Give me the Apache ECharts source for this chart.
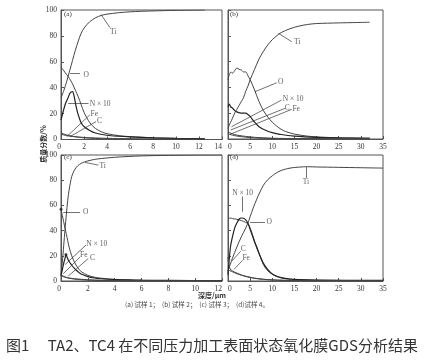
<!DOCTYPE html>
<html><head><meta charset="utf-8">
<script src="https://cdn.jsdelivr.net/npm/echarts@6/dist/echarts.min.js"></script>
<style>html,body{margin:0;padding:0;background:#fff}#c{width:426px;height:364px}</style>
</head><body><div id="c"></div>
<script>
// ---------- data (depth µm, mass fraction %) ----------
// panel (a) sample 1
const aTi = [[0,32],[0.25,38],[0.5,45],[0.75,53],[1,61],[1.25,69],[1.5,76],[1.75,82],[2,86],[2.5,91],[3,94],[3.5,95.8],[4,96.8],[5,97.9],[6,98.6],[7,99],[8,99.3],[10,99.7],[12.5,100]];
const aO  = [[0,56],[0.25,53],[0.5,50],[0.75,47],[1,43],[1.25,38],[1.5,33],[1.75,27],[2,21],[2.5,13],[3,8.5],[3.5,6],[4,4.5],[5,3],[6,2.2],[8,1.3],[10,0.8],[12.5,0.5]];
const aN  = [[0,15],[0.2,22],[0.4,28],[0.6,32],[0.8,36],[1,37],[1.15,33],[1.3,26],[1.5,19],[1.75,13],[2,10],[2.5,7],[3,5],[4,3.3],[5,2.5],[6,2],[8,1.3],[10,0.8],[12.5,0.5]];
const aFe = [[0,5],[0.5,3.5],[1,2.5],[1.5,1.8],[2,1.3],[3,0.8],[4,0.5],[6,0.3],[12.5,0.1]];
const aC  = [[0,4],[0.5,3],[1,2.3],[2,1.6],[3,1.2],[4,0.9],[6,0.6],[8,0.4],[12.5,0.2]];
// panel (b) sample 2
const bTi = [[0,8],[0.3,11],[0.6,13],[1,16],[1.5,20],[2,23],[2.5,26],[3,29],[3.5,32],[4,37],[4.5,41],[5,46],[6,54],[7,62],[8,68],[9,73],[10,77],[11,80],[12,82.5],[14,85.5],[16,87.5],[18,88.8],[20,89.5],[25,90],[32,90.5]];
const bO  = [[0,46],[0.3,50],[0.7,52],[1,51],[1.5,53],[2,55],[2.5,54],[3,53.5],[3.5,52],[4,52],[4.5,49],[5,46],[6,38],[7,29],[8,22],[9,17],[10,13],[11,10],[12,7.5],[13,5.8],[15,3.8],[18,2.2],[22,1.3],[27,0.8],[32,0.6]];
const bN  = [[0,25],[0.3,27],[0.6,25],[1,24],[1.5,22],[2,21],[3,20],[4,20],[4.5,19],[5,17.5],[6,13],[7,9.5],[8,7.5],[9,6],[10,5],[12,3.5],[15,2.2],[20,1.2],[25,0.8],[32,0.6]];
const bFe = [[0,4],[1,3],[2,2.3],[3,1.8],[5,1.1],[7,0.7],[10,0.4],[15,0.2],[32,0.1]];
const bC  = [[0,5.5],[1,4],[2,3],[3,2.5],[4,2],[6,1.3],[8,0.9],[10,0.6],[15,0.3],[32,0.2]];
// panel (c) sample 3
const cTi = [[0,5],[0.1,15],[0.2,28],[0.3,41],[0.4,53],[0.5,64],[0.6,72],[0.7,78],[0.8,83],[1,88],[1.25,91.5],[1.5,93.3],[1.75,94.5],[2,95.3],[2.5,96.5],[3,97.2],[4,98.2],[5,98.8],[6,99.3],[8,99.7],[10,99.9],[12,100]];
const cO  = [[0,57],[0.1,52],[0.2,47],[0.3,42],[0.4,37],[0.5,32],[0.6,27],[0.8,20],[1,15],[1.25,10.5],[1.5,7.5],[2,4.5],[2.5,3],[3,2.2],[4,1.3],[5,0.8],[6,0.5],[8,0.3],[12,0.2]];
const cN  = [[0,4],[0.1,9],[0.2,14],[0.3,18],[0.37,21],[0.45,19],[0.55,16.5],[0.7,14],[0.8,12.5],[1,10],[1.25,7.5],[1.5,5.5],[2,3.5],[2.5,2.4],[3,1.8],[4,1.2],[5,0.9],[6,0.7],[8,0.5],[12,0.3]];
const cFe = [[0,5],[0.25,3.5],[0.5,2.5],[1,1.5],[1.5,1],[2,0.7],[3,0.4],[5,0.2],[12,0.1]];
const cC  = [[0,4],[0.25,3.2],[0.5,2.5],[1,1.8],[2,1],[3,0.6],[5,0.3],[12,0.1]];
// panel (d) sample 4
const dTi = [[0,8],[0.5,13],[1,18],[2,27],[3,35],[4,42],[4.6,47],[5,51],[5.7,58],[6.5,65],[7,69],[8,76],[9,80.5],[10,83.5],[11,86],[12,87.7],[13,88.8],[14,89.6],[15,90.1],[17,90.6],[18,90.7],[20,90.5],[25,90.2],[30,89.9],[35,89.6]];
const dO  = [[0,49],[0.5,50],[1,49.5],[2,49],[3,48],[4,46.5],[4.6,45],[5,42],[5.7,35],[6.5,26],[7,22],[8,13],[9,8],[10,5.5],[11,3.5],[12,2.5],[13,1.8],[15,1.1],[18,0.7],[22,0.5],[35,0.3]];
const dN  = [[0,5],[0.3,18],[0.6,28],[1,35],[1.5,42],[2,46],[2.5,49],[3,50],[3.5,49.8],[4,48.5],[4.5,46],[5,41],[5.5,36],[6,31],[6.5,27],[7,22],[8,14],[9,9],[10,5.5],[11,3.8],[12,2.7],[14,1.6],[16,1.1],[20,0.7],[35,0.5]];
const dC  = [[0,19],[0.2,13],[0.5,9.5],[1,8],[2,6.3],[3,4.8],[4,3.8],[5,3],[6,2.3],[8,1.4],[10,0.9],[13,0.5],[20,0.3],[35,0.2]];
const dFe = [[0,9],[1,7.3],[2,5.8],[3,4.6],[4,3.6],[5,2.8],[6,2.1],[8,1.3],[10,0.8],[13,0.5],[20,0.3],[35,0.2]];

// tick labels / axis ranges
const xMax = [14, 35, 12, 35];
const xStep = [2, 5, 2, 5];
const yTicks = [0, 20, 40, 60, 80, 100];
const panelTags = ['(a)', '(b)', '(c)', '(d)'];

// annotation texts and their anchor / leader points (data space)
const annText = ['Ti', 'O', 'N × 10', 'Fe', 'C'];
const annPos = [
  [[4.55,83],[2.2,50],[3.4,27.5],[2.9,19.8],[3.35,14.6]],
  [[15.6,75],[11.9,44.4],[14.7,30.8],[15.4,23],[13.4,23.8]],
  [[3.1,91.4],[1.85,54.5],[2.66,29.3],[1.7,21],[2.35,18.6]],
  [[17.6,78.2],[9.3,46.6],[3.3,70.2],[4.1,18.2],[3.45,25.2]]
];
const annLead = [
  [[[3.48,96.5],[4.26,86.4]],[[0.8,50.8],[1.65,50.8]],[[0.63,28],[2.4,28]],[[2.5,19],[0.5,2.2]],[[3.04,13.8],[0.78,2.2]]],
  [[[11.4,81.9],[14.4,75.4]],[[6.1,36.7],[11,43.6]],[[12.1,30.2],[0.8,9.5]],[[14.4,23],[0.45,3.6]],[[12.9,23.8],[0.6,7]]],
  [[[1.79,94.1],[2.78,92]],[[0.17,54.5],[1.42,54.5]],[[1.86,28.5],[0.3,13]],[[1.42,19],[0.17,5.8]],[[2.03,17.8],[0.54,3.9]]],
  [[[17.6,90.4],[17.6,81.8]],[[5,46.6],[8.35,46.6]],[[3.3,67],[3.3,55]],[[3.3,16.4],[1.35,9.2]],[[2.86,23.6],[0.83,15.6]]]
];

const curves = [[aTi,aO,aN,aFe,aC],[bTi,bO,bN,bFe,bC],[cTi,cO,cN,cFe,cC],[dTi,dO,dN,dFe,dC]];
const grids = [
  {left:61, top:10, width:161, height:129.5},
  {left:228, top:10, width:155, height:129},
  {left:61, top:155, width:161, height:126},
  {left:228, top:155, width:155, height:126}
];
const tagPos = [[64,11],[230,11],[64,154],[230,154]];

const serif = 'Liberation Serif';
const ink = '#333';
const opt = {animation:false, backgroundColor:'#fff', grid:[], xAxis:[], yAxis:[], series:[], graphic:[]};

for (let i = 0; i < 4; i++) {
  const leftCol = i % 2 === 0;
  opt.grid.push(Object.assign({show:true, borderColor:'#555', borderWidth:1, backgroundColor:'transparent'}, grids[i]));
  opt.xAxis.push({type:'value', gridIndex:i, min:0, max:xMax[i], interval:xStep[i],
    axisLine:{show:true, lineStyle:{color:'#555', width:1}},
    axisTick:{show:true, inside:true, length:3, lineStyle:{color:'#555'}},
    axisLabel:{fontSize:7.5, fontFamily:serif, color:ink, margin:4,
      alignMinLabel: leftCol ? 'right' : 'left', alignMaxLabel: leftCol ? 'right' : 'center'},
    splitLine:{show:false}});
  opt.yAxis.push({type:'value', gridIndex:i, min:yTicks[0], max:yTicks[yTicks.length-1], interval:yTicks[1]-yTicks[0],
    axisLine:{show:true, lineStyle:{color:'#555', width:1}},
    axisTick:{show:true, inside:true, length:3, lineStyle:{color:'#555'}},
    axisLabel:{show: leftCol, fontSize:7.5, fontFamily:serif, color:ink, margin:4},
    splitLine:{show:false}});
  curves[i].forEach((d, k) => {
    opt.series.push({type:'line', xAxisIndex:i, yAxisIndex:i, data:d, showSymbol:false, smooth:0.3,
      lineStyle:{color: k === 2 ? '#222' : '#444', width: k === 2 ? 1.2 : 1}, z:3});
  });
  // leader lines
  opt.series.push({type:'lines', coordinateSystem:'cartesian2d', xAxisIndex:i, yAxisIndex:i,
    data: annLead[i].map(c => ({coords:c})), lineStyle:{color:ink, width:0.7, opacity:1}, z:4});
  // labels
  opt.series.push({type:'scatter', xAxisIndex:i, yAxisIndex:i, symbolSize:1, itemStyle:{color:'rgba(0,0,0,0)'},
    data: annPos[i].map((p, k) => ({value:p, name:annText[k]})),
    label:{show:true, position:'inside', formatter: p => p.name, fontSize:7.5, fontFamily:serif, color:ink}, z:5});
  opt.graphic.push({type:'text', left:tagPos[i][0], top:tagPos[i][1],
    style:{text:panelTags[i], font:'7px "Liberation Serif"', fill:ink}});
}
// markers on panel (c)
opt.series.push({type:'scatter', xAxisIndex:2, yAxisIndex:2, symbolSize:3, itemStyle:{color:'#222'}, data:[cO[0], cN[4]], z:6});

// texts
opt.graphic.push(
  {type:'text', x:43, y:144, rotation:Math.PI/2,
   style:{text:'质量分数/%', font:'bold 7px "Noto Sans CJK SC"', fill:ink, align:'center', verticalAlign:'middle'}},
  {type:'text', x:212, y:295,
   style:{text:'深度/μm', font:'bold 7px "Noto Sans CJK SC"', fill:ink, align:'center', verticalAlign:'middle'}},
  {type:'text', x:197, y:305,
   style:{text:'(a) 试样 1；  (b) 试样 2；  (c) 试样 3；  (d)试样 4。', font:'6.5px "Noto Sans CJK SC"', fill:'#444', align:'center', verticalAlign:'middle'}},
  {type:'text', x:212, y:345,
   style:{text:'图1\u3000 TA2、TC4 在不同压力加工表面状态氧化膜GDS分析结果', font:'15px "Noto Sans CJK SC"', fill:'#333', align:'center', verticalAlign:'middle'}}
);

const chart = echarts.init(document.getElementById('c'), null, {renderer:'canvas'});
chart.setOption(opt);
</script>
</body></html>
